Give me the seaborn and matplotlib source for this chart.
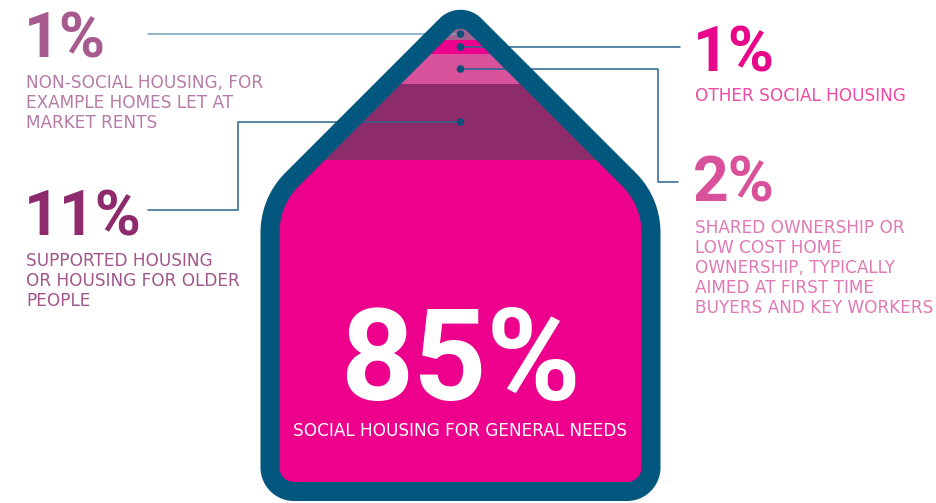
import numpy as np
import matplotlib
matplotlib.use("Agg")
import matplotlib.pyplot as plt
from matplotlib.patches import Polygon
import seaborn as sns

# data: share of homes by type, top band of the house first
shares = [1, 1, 2, 11, 85]
share_labels = ["1%", "1%", "2%", "11%", "85%"]
descriptions = [
    "NON-SOCIAL HOUSING, FOR\nEXAMPLE HOMES LET AT\nMARKET RENTS",
    "OTHER SOCIAL HOUSING",
    "SHARED OWNERSHIP OR\nLOW COST HOME\nOWNERSHIP, TYPICALLY\nAIMED AT FIRST TIME\nBUYERS AND KEY WORKERS",
    "SUPPORTED HOUSING\nOR HOUSING FOR OLDER\nPEOPLE",
    "SOCIAL HOUSING FOR GENERAL NEEDS",
]

# styles
band_colors = ["#a4618f", "#ec008c", "#d8529b", "#8e2b6b", "#ec008c"]
big_colors = ["#a65a8e", "#e8078a", "#d9519b", "#8e2b6c", "white"]
desc_colors = ["#b67ba6", "#ee4aa3", "#e278b4", "#a0568a", "white"]
BORDER = "#03577f"
LINE = "#2a6590"

# layout (pixel units, y down). bands are not drawn to scale in the original
band_px = [12, 14, 30, 76, 323]
inner_top = 28
house_cx = 460.5


def rounded_polygon(verts, radii, n=40):
    pts = []
    verts = np.asarray(verts, float)
    k = len(verts)
    for i in range(k):
        p, a, b = verts[i], verts[i - 1], verts[(i + 1) % k]
        u1 = (a - p) / np.linalg.norm(a - p)
        u2 = (b - p) / np.linalg.norm(b - p)
        theta = np.arccos(np.clip(np.dot(u1, u2), -1, 1))
        r = radii[i]
        t = r / np.tan(theta / 2)
        bis = (u1 + u2) / np.linalg.norm(u1 + u2)
        c = p + bis * r / np.sin(theta / 2)
        t1, t2 = p + u1 * t, p + u2 * t
        a1 = np.arctan2(*(t1 - c)[::-1])
        a2 = np.arctan2(*(t2 - c)[::-1])
        d = (a2 - a1 + np.pi) % (2 * np.pi) - np.pi
        ang = a1 + np.linspace(0, d, n)
        pts.extend(np.c_[c[0] + r * np.cos(ang), c[1] + r * np.sin(ang)])
    return np.array(pts)


sns.set_theme(style="white")
plt.rcParams["font.family"] = ["Roboto", "DejaVu Sans"]

fig = plt.figure(figsize=(9.37, 5.03), dpi=100)
ax = fig.add_axes([0, 0, 1, 1])
ax.set_xlim(0, 937)
ax.set_ylim(503, 0)
ax.axis("off")

# house outline (centre line of the border)
house_verts = [(house_cx, 11), (651, 201.5), (651, 491.5), (270, 491.5), (270, 201.5)]
house_pts = rounded_polygon(house_verts, [20, 75, 24, 24, 75])
clip = Polygon(house_pts, closed=True, facecolor="none", edgecolor="none")
ax.add_patch(clip)

# bands as stacked bars clipped to the house
bottoms = inner_top + np.concatenate([[0], np.cumsum(band_px[:-1])])
heights = list(band_px)
heights[0] += inner_top  # cover the rounded tip
bottoms[0] = 0
bars = ax.bar([house_cx] * len(shares), heights, bottom=bottoms, width=420,
              color=band_colors, linewidth=0, zorder=1)
for b in bars:
    b.set_clip_path(clip)

# leader lines
dot_y = inner_top + np.cumsum(band_px) - np.array(band_px) / 2
ax.plot([148, house_cx], [dot_y[0]] * 2, color="#75a0bb", lw=1.1, zorder=2)
ax.plot([house_cx, 680], [dot_y[1]] * 2, color=LINE, lw=1.1, zorder=2)
ax.plot([house_cx, 658, 658, 678], [dot_y[2], dot_y[2], 182, 182], color=LINE, lw=1.1, zorder=2)
ax.plot([house_cx, 238, 238, 148], [dot_y[3], dot_y[3], 210, 210], color=LINE, lw=1.1, zorder=2)

# border on top of the lines
ax.add_patch(Polygon(house_pts, closed=True, facecolor="none", edgecolor=BORDER,
                     lw=19 * 0.72, joinstyle="round", zorder=3))

sns.scatterplot(x=[house_cx] * 4, y=dot_y[:4], color="#0b4f7a", s=30,
                edgecolor="none", zorder=4, ax=ax, legend=False)
ax.set_xlim(0, 937)
ax.set_ylim(503, 0)

# labels: (x, baseline of big number, baseline of first description line, align)
label_pos = [(24, 57, 88, "left"), (693, 71, 101, "left"), (693, 202, 233, "left"),
             (24, 235, 266, "left"), (house_cx, 400, 436, "center")]
for i, (x, yb, yd, ha) in enumerate(label_pos):
    size = 92 if i == 4 else 45
    ax.text(x, yb, share_labels[i], fontsize=size, fontweight="bold", color=big_colors[i],
            ha=ha, va="baseline", zorder=5)
    for j, line in enumerate(descriptions[i].split("\n")):
        ax.text(x + (2 if ha == "left" else 0), yd + j * 20, line, fontsize=12.2,
                family=["DejaVu Sans"], color=desc_colors[i],
                ha=ha, va="baseline", zorder=5)

fig.savefig("out.png", dpi=100)
